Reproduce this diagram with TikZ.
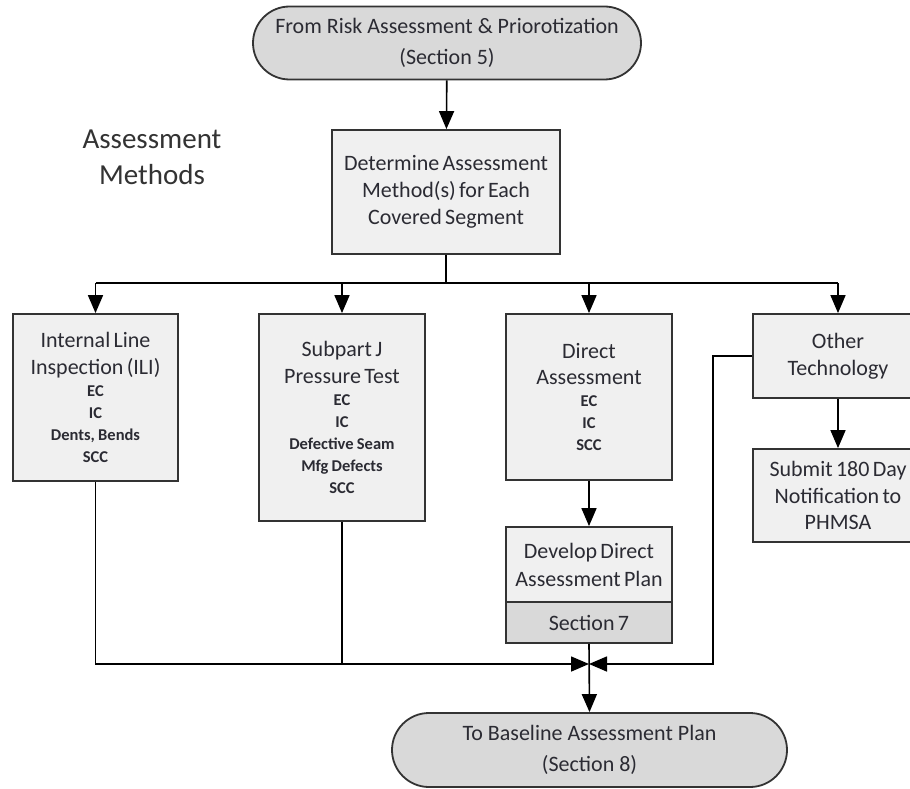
\documentclass[tikz,border=0pt]{standalone}
\usepackage{fontspec}
\setmainfont{Carlito}
\usetikzlibrary{arrows.meta,shapes.misc}

\definecolor{boxfill}{HTML}{F0F0F0}
\definecolor{termfill}{HTML}{D9D9D9}
\definecolor{edge}{HTML}{333333}
\definecolor{ink}{HTML}{2B2B33}

\newcommand{\headfont}{\fontsize{22}{26.7}\selectfont}
\newcommand{\itemfont}{\fontsize{16.5}{22}\selectfont\bfseries}

\tikzset{
  x=1pt, y=-1pt,
  every node/.style={text=ink, inner sep=0pt},
  procbox/.style={draw=edge, line width=1.8pt, fill=boxfill, rectangle,
    align=center, text width=#1},
  procbox/.default=160pt,
  terminal/.style={draw=edge, line width=1.8pt, fill=termfill,
    rounded rectangle, rounded rectangle arc length=180, align=center,
    font=\fontsize{22}{31}\selectfont},
  link/.style={draw=black, line width=1.6pt},
  arr/.style={link, -{Triangle[length=18pt,width=15pt]}},
}

\begin{document}
\begin{tikzpicture}
\clip (0,0) rectangle (910,789);
\fill[white] (0,0) rectangle (910,789);

% terminals
\node[terminal, minimum width=388pt, minimum height=73pt] (start) at (447,43)
  {From Risk Assessment \& Priorotization\\(Section 5)};
\node[terminal, minimum width=395pt, minimum height=74pt] (finish) at (589.5,750)
  {To Baseline Assessment Plan\\(Section 8)};

% heading
\node[align=center, text=edge, font=\fontsize{29}{36}\selectfont] (heading) at (152,157)
  {Assessment\\Methods};

% selection step
\node[procbox=220pt, minimum width=228pt, minimum height=124pt] (det) at (446,192)
  {\headfont Determine Assessment\\Method(s) for Each\\Covered Segment\par};

% assessment methods
\node[procbox, minimum width=165pt, minimum height=167pt] (ili) at (95.5,397.5)
  {\headfont Internal Line\\Inspection (ILI)\par\itemfont EC\\IC\\Dents, Bends\\SCC\par};
\node[procbox, minimum width=166pt, minimum height=207pt] (spj) at (342,417.5)
  {\headfont Subpart J\\Pressure Test\par\itemfont EC\\IC\\Defective Seam\\Mfg Defects\\SCC\par};
\node[procbox, minimum width=166pt, minimum height=166pt] (da) at (589,397)
  {\headfont Direct\\Assessment\par\itemfont EC\\IC\\SCC\par};
\node[procbox, minimum width=170pt, minimum height=84pt] (ot) at (838,356)
  {\headfont Other\\Technology\par};
\node[procbox, minimum width=170pt, minimum height=93pt] (sub) at (838,495.5)
  {\headfont Submit 180 Day\\Notification to\\PHMSA\par};

% direct assessment plan (two-part box)
\node[procbox, minimum width=166pt, minimum height=75pt] (devplan) at (589,564.5)
  {\fontsize{22}{28}\selectfont Develop Direct\\Assessment Plan\par};
\node[procbox, fill=termfill, minimum width=166pt, minimum height=41pt] (devsec) at (589,622.5)
  {\headfont Section 7\par};

% connectors
\coordinate (bus) at (446,283);
\coordinate (merge) at (589,664);

\draw[arr] (start) -- (det);
\draw[link] (det.south) -- (bus);
\draw[link] (ili.north |- bus) -- (ot.north |- bus);
\draw[arr] (ili.north |- bus) -- (ili.north);
\draw[arr] (spj.north |- bus) -- (spj.north);
\draw[arr] (da.north |- bus) -- (da.north);
\draw[arr] (ot.north |- bus) -- (ot.north);

\draw[arr] (ot) -- (sub);
\draw[arr] (da) -- (devplan);

\draw[arr] (ili.south) |- (merge);
\draw[link] (spj.south) -- (spj.south |- merge);
\draw[arr] (ot.west) -- (713,356) |- (merge);
\draw[arr] (devsec.south) -- (finish.north);
\end{tikzpicture}
\end{document}
